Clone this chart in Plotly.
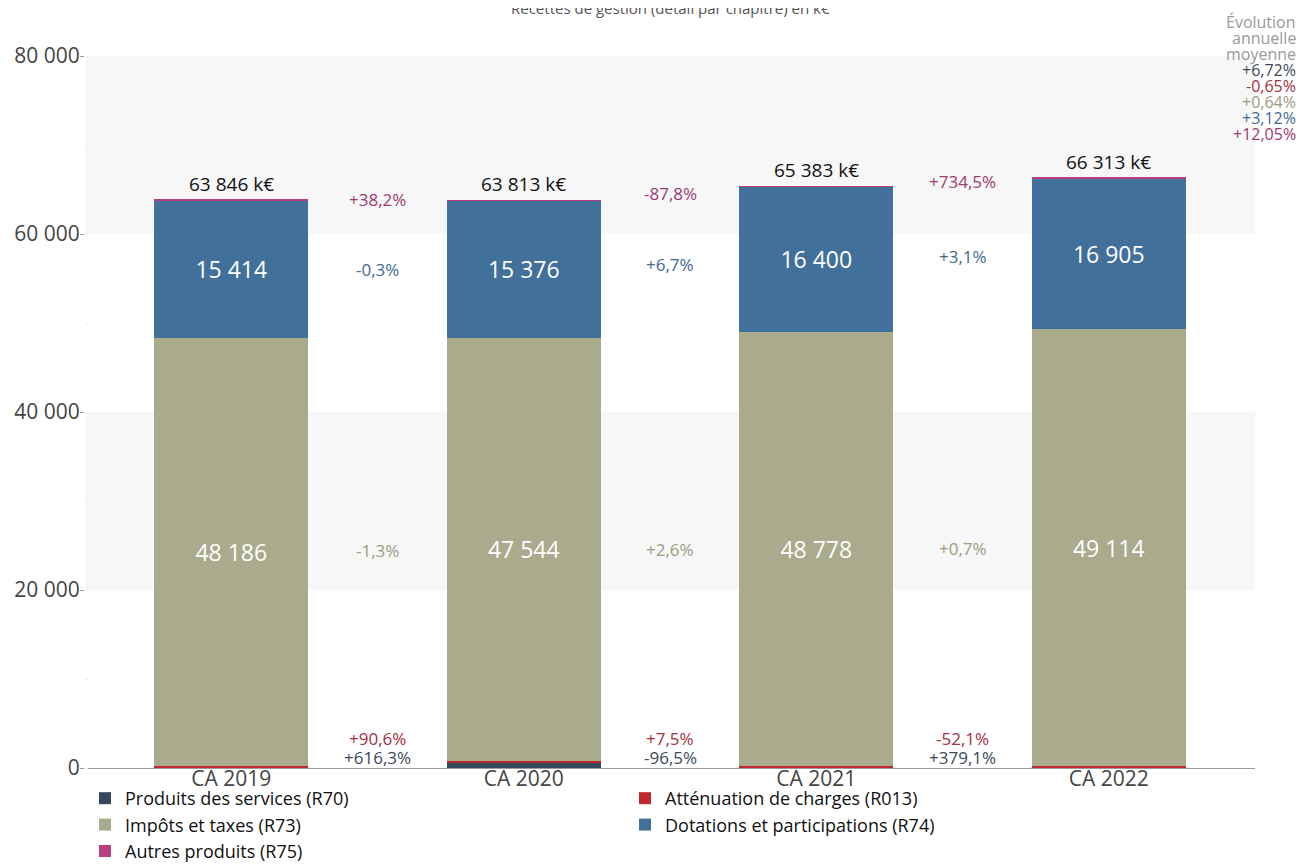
import plotly.graph_objects as go

# Comptes administratifs
years = ["CA 2019", "CA 2020", "CA 2021", "CA 2022"]

# Recettes par chapitre, en k€
r70 = [88, 631, 22, 106]          # Produits des services
r013 = [83, 158, 170, 82]         # Atténuation de charges
r73 = [48186, 47544, 48778, 49114]  # Impôts et taxes
r74 = [15414, 15376, 16400, 16905]  # Dotations et participations
r75 = [75, 104, 13, 106]          # Autres produits

# Évolutions d'une année sur l'autre (entre deux barres)
evol_r70 = ["+616,3%", "-96,5%", "+379,1%"]
evol_r013 = ["+90,6%", "+7,5%", "-52,1%"]
evol_r73 = ["-1,3%", "+2,6%", "+0,7%"]
evol_r74 = ["-0,3%", "+6,7%", "+3,1%"]
evol_r75 = ["+38,2%", "-87,8%", "+734,5%"]

# Évolution annuelle moyenne par chapitre
moy_labels = ["+6,72%", "-0,65%", "+0,64%", "+3,12%", "+12,05%"]

COLORS = {
    "R70": "#34495e",
    "R013": "#c0282d",
    "R73": "#aaaa8c",
    "R74": "#41709b",
    "R75": "#b8407f",
}
TEXT_COLORS = {
    "R70": "#3b4a5a",
    "R013": "#a3303d",
    "R73": "#9c9c7e",
    "R74": "#3e6a90",
    "R75": "#9b3a73",
}
FONT = "'Open Sans', 'Noto Sans', sans-serif"

# la page ajoute 8 px de marge autour de la figure
W, H = 1298, 859
ML, MT, PW, PH = 77, 48, 1170, 712


def py(p):
    """pixel (depuis le haut de la figure) -> coordonnée paper"""
    return 1 + (MT - p) / PH


def px_(p):
    return (p - ML) / PW


series = [
    ("Produits des services (R70)", r70, "R70"),
    ("Atténuation de charges (R013)", r013, "R013"),
    ("Impôts et taxes (R73)", r73, "R73"),
    ("Dotations et participations (R74)", r74, "R74"),
    ("Autres produits (R75)", r75, "R75"),
]

fig = go.Figure()
for name, values, key in series:
    show_text = key in ("R73", "R74")
    fig.add_trace(
        go.Bar(
            x=years,
            y=values,
            name=name,
            marker_color=COLORS[key],
            marker_line_width=0,
            width=0.525,
            texttemplate="%{y:,.0f}" if show_text else None,
            textposition="inside" if show_text else "none",
            insidetextanchor="middle",
            textfont=dict(color="white", size=23, family=FONT),
            hovertemplate=f"{name}<br>%{{x}} : %{{y:,.0f}} k€<extra></extra>",
        )
    )

totals = [a + b + c + d + e for a, b, c, d, e in zip(r70, r013, r73, r74, r75)]

annotations = []
for i, total in enumerate(totals):
    annotations.append(dict(
        x=i, y=total, xref="x", yref="y", yanchor="bottom", yshift=1,
        text=f"{total:,}".replace(",", " ") + " k€", showarrow=False,
        font=dict(size=19, color="#111", family=FONT),
    ))

# milieux des segments R73 / R74 pour placer les évolutions entre barres
mid73 = [a + b + c / 2 for a, b, c in zip(r70, r013, r73)]
mid74 = [a + b + c + d / 2 for a, b, c, d in zip(r70, r013, r73, r74)]
evol = []
for i in range(3):
    xm = i + 0.5
    evol += [
        dict(x=xm, y=(totals[i] + totals[i + 1]) / 2, text=evol_r75[i],
             font=dict(color=TEXT_COLORS["R75"])),
        dict(x=xm, y=(mid74[i] + mid74[i + 1]) / 2, text=evol_r74[i],
             font=dict(color=TEXT_COLORS["R74"])),
        dict(x=xm, y=(mid73[i] + mid73[i + 1]) / 2, text=evol_r73[i],
             font=dict(color=TEXT_COLORS["R73"])),
        dict(x=xm, y=0, yanchor="bottom", yshift=16, text=evol_r013[i],
             font=dict(color=TEXT_COLORS["R013"])),
        dict(x=xm, y=0, yanchor="bottom", yshift=-3, text=evol_r70[i],
             font=dict(color=TEXT_COLORS["R70"])),
    ]
for a in evol:
    a.update(xref="x", yref="y", showarrow=False)
    a["font"].update(size=17, family=FONT)
annotations += evol

# titre (coupé en haut dans l'original)
annotations.append(dict(
    x=0.5, y=py(0), xref="paper", yref="paper", yanchor="middle",
    text="Recettes de gestion (détail par chapitre) en k€", showarrow=False,
    font=dict(size=15, color="#555", family=FONT),
))

# bloc "Évolution annuelle moyenne", une ligne par annotation
moy_keys = ["R70", "R013", "R73", "R74", "R75"]
block = [("Évolution", "#999"), ("annuelle", "#999"), ("moyenne", "#999")]
block += [(t, TEXT_COLORS[k]) for k, t in zip(moy_keys, moy_labels)]
for j, (txt, col) in enumerate(block):
    annotations.append(dict(
        x=px_(1290), y=py(14 + 16 * j), xref="paper", yref="paper",
        xanchor="right", yanchor="middle", text=txt, showarrow=False,
        font=dict(size=16, color=col, family=FONT),
    ))

# bandes de fond alternées
shapes = []
for y0 in (20000, 60000):
    shapes.append(dict(
        type="rect", xref="paper", yref="y", x0=0, x1=1, y0=y0, y1=y0 + 20000,
        fillcolor="#f7f7f7", line_width=0, layer="below",
    ))

fig.update_layout(
    barmode="stack",
    width=W,
    height=H,
    separators=", ",
    paper_bgcolor="white",
    plot_bgcolor="white",
    font=dict(family=FONT, color="#444"),
    margin=dict(l=ML, r=W - ML - PW, t=MT, b=H - MT - PH, autoexpand=False),
    annotations=annotations,
    shapes=shapes,
    showlegend=True,
    legend=dict(
        orientation="h", traceorder="normal",
        yref="container", xref="paper",
        x=0, y=(H - 772) / H, xanchor="left", yanchor="top",
        entrywidth=495,
        bgcolor="rgba(0,0,0,0)",
        font=dict(size=18, color="#111", family=FONT),
        itemwidth=30, tracegroupgap=0,
    ),
    xaxis=dict(
        showline=True, linecolor="#999", linewidth=1,
        tickfont=dict(size=21, color="#444"), ticks="",
        ticklabelstandoff=-8,
    ),
    yaxis=dict(
        range=[0, 80000], dtick=20000, tickformat=",.0f",
        showgrid=False, zeroline=False, ticks="outside", ticklen=4,
        ticklabelstandoff=-4,
        tickcolor="#999", tickfont=dict(size=21, color="#444"),
        minor=dict(dtick=10000, ticks="inside", ticklen=3, tickcolor="#eee"),
    ),
)

fig.write_html("out.html")
